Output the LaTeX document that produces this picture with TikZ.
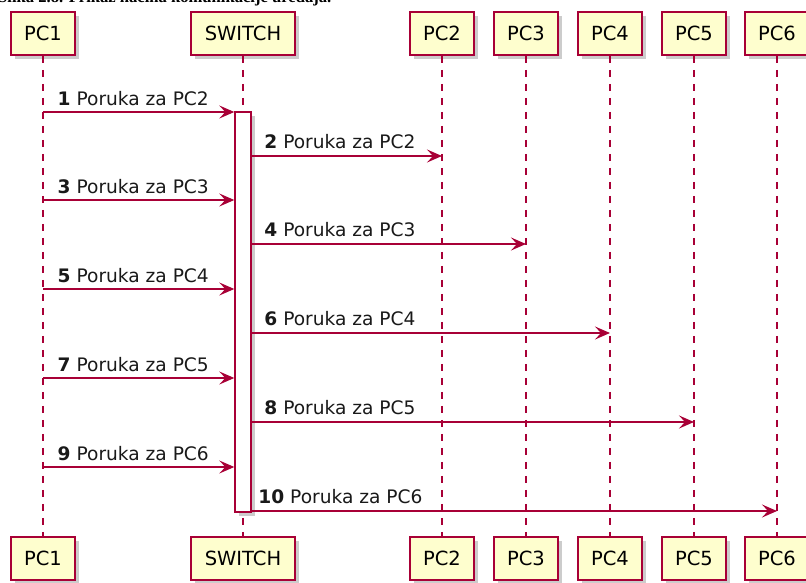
\documentclass[tikz,border=0pt]{standalone}
\usepackage{fontspec}
\setmainfont{DejaVu Sans}
\newfontfamily\capfont{Liberation Serif}
\usetikzlibrary{arrows.meta,shadows}
\definecolor{plred}{HTML}{A80036}
\definecolor{plfill}{HTML}{FEFECE}

\begin{document}
\begin{tikzpicture}[x=1pt,y=-1pt,
  part/.style={draw=plred,line width=1.6pt,fill=plfill,minimum width=64pt,minimum height=43pt,inner sep=0pt,
    font=\fontsize{19.5}{20}\selectfont,drop shadow={shadow xshift=4pt,shadow yshift=-4pt,fill=black!40,opacity=.5}},
  life/.style={plred,line width=1.1pt,dash pattern=on 7pt off 7pt},
  actbar/.style={draw=plred,line width=1.4pt,fill=white,minimum width=16pt,minimum height=400pt,inner sep=0pt,
    drop shadow={shadow xshift=4pt,shadow yshift=-4pt,fill=black!40,opacity=.5}},
  arr/.style={plred,line width=1.4pt,-{Stealth[length=15pt,width=13pt,inset=6pt]}},
  msg/.style={anchor=base west,inner sep=0pt,text=black!90,font=\fontsize{18.6}{20}\selectfont}]
\clip (0,0) rectangle (806,582);
% cut-off caption
\node[anchor=base west,inner sep=0pt,font=\capfont\bfseries\fontsize{16.6}{18}\selectfont] (cap) at (-2,2.5) {Slika 2.8. Prikaz načina komunikacije uređaja.};
% participants, top and bottom
\node[part] (t1) at (43,33.5) {PC1};
\node[part,minimum width=104pt] (t2) at (243,33.5) {SWITCH};
\node[part] (t3) at (442,33.5) {PC2};
\node[part] (t4) at (526,33.5) {PC3};
\node[part] (t5) at (610,33.5) {PC4};
\node[part] (t6) at (694,33.5) {PC5};
\node[part] (t7) at (777,33.5) {PC6};
\node[part] (b1) at (43,558.5) {PC1};
\node[part,minimum width=104pt] (b2) at (243,558.5) {SWITCH};
\node[part] (b3) at (442,558.5) {PC2};
\node[part] (b4) at (526,558.5) {PC3};
\node[part] (b5) at (610,558.5) {PC4};
\node[part] (b6) at (694,558.5) {PC5};
\node[part] (b7) at (777,558.5) {PC6};
\draw[life] (t1)--(b1); \draw[life] (t2)--(b2); \draw[life] (t3)--(b3); \draw[life] (t4)--(b4);
\draw[life] (t5)--(b5); \draw[life] (t6)--(b6); \draw[life] (t7)--(b7);
\node[actbar] (act) at (243,312) {};
% message rows
\coordinate (r1) at (0,112); \coordinate (r2) at (0,156);
\coordinate (r3) at (0,200); \coordinate (r4) at (0,244);
\coordinate (r5) at (0,289); \coordinate (r6) at (0,333);
\coordinate (r7) at (0,378); \coordinate (r8) at (0,422);
\coordinate (r9) at (0,467); \coordinate (r10) at (0,511);
\draw[arr] (t1 |- r1)--(act.west |- r1) node[msg,at start,xshift=14pt,yshift=7pt] {\textbf{1} Poruka za PC2};
\draw[arr] (act.east |- r2)--(t3 |- r2) node[msg,at start,xshift=12pt,yshift=8pt] {\textbf{2} Poruka za PC2};
\draw[arr] (t1 |- r3)--(act.west |- r3) node[msg,at start,xshift=14pt,yshift=7pt] {\textbf{3} Poruka za PC3};
\draw[arr] (act.east |- r4)--(t4 |- r4) node[msg,at start,xshift=12pt,yshift=8pt] {\textbf{4} Poruka za PC3};
\draw[arr] (t1 |- r5)--(act.west |- r5) node[msg,at start,xshift=14pt,yshift=7pt] {\textbf{5} Poruka za PC4};
\draw[arr] (act.east |- r6)--(t5 |- r6) node[msg,at start,xshift=12pt,yshift=8pt] {\textbf{6} Poruka za PC4};
\draw[arr] (t1 |- r7)--(act.west |- r7) node[msg,at start,xshift=14pt,yshift=7pt] {\textbf{7} Poruka za PC5};
\draw[arr] (act.east |- r8)--(t6 |- r8) node[msg,at start,xshift=12pt,yshift=8pt] {\textbf{8} Poruka za PC5};
\draw[arr] (t1 |- r9)--(act.west |- r9) node[msg,at start,xshift=14pt,yshift=7pt] {\textbf{9} Poruka za PC6};
\draw[arr] (act.east |- r10)--(t7 |- r10) node[msg,at start,xshift=6pt,yshift=8pt] {\textbf{10} Poruka za PC6};
\end{tikzpicture}
\end{document}
